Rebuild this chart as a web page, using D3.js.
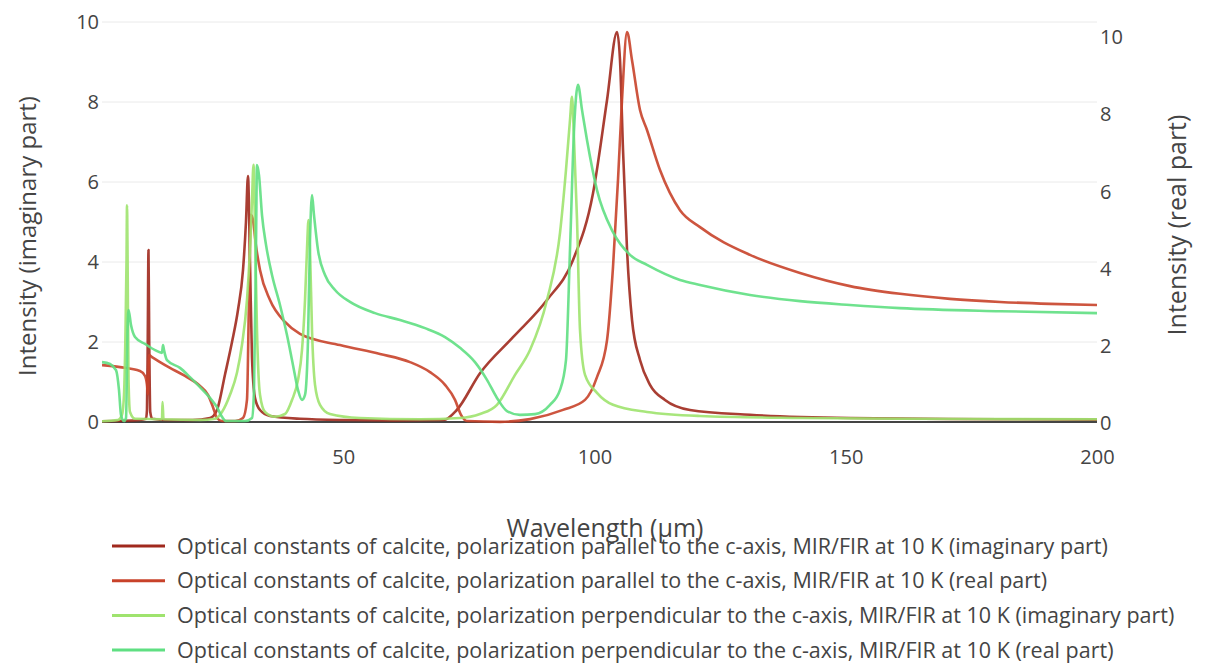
<!DOCTYPE html>
<html>
<head>
<meta charset="utf-8">
<script src="https://cdn.jsdelivr.net/npm/d3@7/dist/d3.min.js"></script>
<style>
  body { margin: 0; background: #fff; }
  svg text { font-family: "Open Sans", "Noto Sans", sans-serif; fill: #444; }
</style>
</head>
<body>
<script>
// Series: [wavelength (um), intensity]
const parImag = [[2.0,0.02],[9.56,0.05],[10.76,0.08],[10.95,0.3],[11.1,2.0],[11.25,4.3],[11.4,2.0],[11.6,0.25],[12.0,0.08],[15.0,0.05],
  [20.0,0.05],[23.5,0.1],[24.88,0.3],[26.5,1.2],[27.87,2.0],[29.06,2.8],[30.06,3.8],[30.65,5.0],[31.05,6.15],[31.45,4.0],
  [31.85,1.6],[32.45,0.6],[33.44,0.3],[35.43,0.15],[41.4,0.08],[50,0.05],[60,0.04],[70,0.05],[72.6,0.3],[77.22,1.22],
  [83.79,2.12],[90.55,3.05],[95.73,4.05],[99.71,5.72],[102.5,8.05],[104.49,9.75],[105.08,9.05],[105.68,6.8],[106.48,4.3],[107.47,2.55],
  [109.06,1.55],[111.05,0.93],[114.03,0.55],[119.01,0.3],[130.95,0.18],[150.85,0.1],[180.7,0.07],[200,0.06]];

const parReal = [[2.0,1.5],[5.58,1.45],[9.56,1.35],[10.56,1.22],[10.95,0.99],[11.15,0.75],[11.35,1.76],[11.95,1.71],[13.54,1.58],[15.53,1.43],
  [18.52,1.22],[21.5,0.96],[23.09,0.73],[24.09,0.41],[24.88,0.13],[25.88,0.05],[28.47,0.05],[30.06,0.13],[30.85,0.6],[31.25,3.2],
  [31.65,5.4],[32.05,5.26],[32.64,4.6],[33.44,3.97],[35.43,3.19],[38.42,2.62],[41.4,2.31],[49.36,2.02],[57.32,1.79],[63.29,1.58],
  [67.27,1.32],[70.26,0.99],[72.25,0.6],[73.44,0.21],[74.63,0.05],[81.2,0.03],[87.17,0.1],[93.74,0.34],[98.12,0.6],[100.5,1.19],
  [102.5,2.15],[103.69,4.05],[104.68,6.3],[105.48,8.38],[106.48,10.14],[107.47,9.41],[109.06,8.12],[110.45,7.6],[113.04,6.56],[117.02,5.52],
  [121.0,5.08],[130.95,4.36],[140.9,3.89],[150.85,3.55],[160.8,3.35],[170.75,3.22],[180.7,3.14],[190.65,3.09],[200,3.06]];

const perpImag = [[2.0,0.02],[5.18,0.05],[5.98,0.18],[6.38,0.68],[6.68,2.3],[6.88,4.05],[6.98,5.42],[7.08,4.3],[7.28,1.05],[7.57,0.25],
  [8.57,0.08],[13.94,0.07],[14.04,0.5],[14.24,0.07],[21.5,0.05],[24.49,0.08],[25.88,0.25],[27.47,0.68],[28.86,1.23],[29.86,1.93],
  [30.85,3.05],[31.45,4.3],[31.85,5.55],[32.15,6.43],[32.45,4.8],[32.84,2.3],[33.44,0.68],[34.44,0.25],[36.43,0.13],[38.42,0.2],
  [39.81,0.55],[41.0,1.05],[41.8,1.8],[42.4,3.05],[42.79,4.3],[43.09,5.05],[43.39,4.3],[43.79,2.3],[44.39,0.93],[45.38,0.43],
  [47.37,0.2],[53.34,0.1],[65.28,0.07],[73.24,0.1],[77.22,0.2],[80.6,0.43],[84.19,1.18],[87.17,1.8],[90.55,3.05],[93.14,4.73],
  [94.33,6.3],[95.13,7.55],[95.53,8.13],[95.93,7.05],[96.53,5.05],[97.12,2.3],[98.12,1.18],[100.5,0.73],[103.69,0.43],[110.45,0.25],
  [121.0,0.15],[140.9,0.1],[160.8,0.08],[200,0.07]];

const perpReal = [[2.0,1.58],[3.59,1.53],[4.79,1.37],[5.38,0.86],[5.78,0.21],[6.38,0.05],[6.78,0.13],[7.08,2.41],[7.28,2.93],[7.77,2.54],
  [8.57,2.23],[10.56,2.05],[12.55,1.89],[13.94,1.82],[14.14,2.02],[14.34,1.89],[14.93,1.63],[17.52,1.43],[19.51,1.19],[21.5,0.93],
  [23.49,0.65],[24.88,0.41],[25.88,0.16],[26.68,0.05],[30.46,0.05],[31.85,0.13],[32.25,0.86],[32.64,4.49],[32.84,6.69],[33.24,6.43],
  [33.84,5.39],[34.64,4.62],[35.83,3.84],[37.42,3.06],[38.81,2.28],[40.01,1.5],[41.0,0.86],[41.8,0.6],[42.4,0.73],[42.99,2.15],
  [43.39,4.75],[43.79,5.91],[44.19,5.39],[44.98,4.49],[46.38,3.84],[48.37,3.45],[51.35,3.14],[56.33,2.85],[61.3,2.67],[66.28,2.46],
  [70.26,2.23],[73.24,1.95],[76.22,1.58],[78.61,1.12],[80.6,0.65],[82.59,0.31],[85.18,0.21],[88.17,0.23],[91.15,0.47],[93.14,0.86],
  [94.33,1.63],[95.13,4.49],[95.93,7.6],[96.72,8.77],[97.52,8.12],[98.51,7.34],[100.5,6.04],[103.69,4.95],[107.07,4.36],[110.45,4.1],
  [117.02,3.71],[121.0,3.58],[130.95,3.32],[140.9,3.16],[150.85,3.06],[160.8,2.98],[180.7,2.9],[200,2.85]];

const seriesNames = [
  'Optical constants of calcite, polarization parallel to the c-axis, MIR/FIR at 10 K (imaginary part)',
  'Optical constants of calcite, polarization parallel to the c-axis, MIR/FIR at 10 K (real part)',
  'Optical constants of calcite, polarization perpendicular to the c-axis, MIR/FIR at 10 K (imaginary part)',
  'Optical constants of calcite, polarization perpendicular to the c-axis, MIR/FIR at 10 K (real part)'
];
const xTicks = [50, 100, 150, 200];
const yTicks = [0, 2, 4, 6, 8, 10];

const width = 1205;
const height = 666;
const plot = { left: 102, right: 1097, top: 22, bottom: 422 };

const colors = ['#a0291d', '#c8422a', '#9fe36e', '#5fdf82'];

const x = d3.scaleLinear().domain([2, 200]).range([plot.left, plot.right]);
const yL = d3.scaleLinear().domain([0, 10]).range([plot.bottom, plot.top]);
const yR = d3.scaleLinear().domain([0, 10.4]).range([plot.bottom + 1, plot.top]);

const svg = d3.select('body').append('svg')
  .attr('width', width)
  .attr('height', height);

// Grid lines (left axis)
svg.append('g')
  .selectAll('line')
  .data(yTicks.filter(d => d > 0))
  .enter()
  .append('line')
  .attr('x1', plot.left)
  .attr('x2', plot.right)
  .attr('y1', d => yL(d))
  .attr('y2', d => yL(d))
  .attr('stroke', '#eaeaea')
  .attr('stroke-width', 1);

// Zero line
svg.append('line')
  .attr('x1', plot.left)
  .attr('x2', plot.right)
  .attr('y1', yL(0))
  .attr('y2', yL(0))
  .attr('stroke', '#444')
  .attr('stroke-width', 2);

// Axes
const axL = svg.append('g')
  .attr('transform', `translate(${plot.left - 3},0)`)
  .call(d3.axisLeft(yL).tickValues(yTicks).tickSize(0).tickPadding(0));
const axR = svg.append('g')
  .attr('transform', `translate(${plot.right + 3},0)`)
  .call(d3.axisRight(yR).tickValues(yTicks).tickSize(0).tickPadding(0));
const axB = svg.append('g')
  .attr('transform', `translate(0,${plot.bottom + 10})`)
  .call(d3.axisBottom(x).tickValues(xTicks).tickSize(0).tickPadding(18));
[axL, axR, axB].forEach(a => {
  a.select('.domain').remove();
  a.selectAll('text').style('font-size', '20px').style('fill', '#444');
});

// Curves
svg.append('clipPath').attr('id', 'clip')
  .append('rect')
  .attr('x', plot.left)
  .attr('y', plot.top - 2)
  .attr('width', plot.right - plot.left)
  .attr('height', plot.bottom - plot.top + 4);

const lineL = d3.line().x(d => x(d[0])).y(d => yL(d[1])).curve(d3.curveMonotoneX);
const lineR = d3.line().x(d => x(d[0])).y(d => yR(d[1])).curve(d3.curveMonotoneX);

const curves = svg.append('g').attr('clip-path', 'url(#clip)');
[[parImag, lineL], [parReal, lineR], [perpImag, lineL], [perpReal, lineR]].forEach(([data, gen], i) => {
  curves.append('path')
    .datum(data)
    .attr('d', gen)
    .attr('fill', 'none')
    .attr('stroke', colors[i])
    .attr('stroke-width', 2.6)
    .attr('stroke-linejoin', 'round')
    .attr('opacity', 0.9);
});

// Axis titles
svg.append('text')
  .attr('x', 605)
  .attr('y', 537)
  .attr('text-anchor', 'middle')
  .style('font-size', '25px')
  .text('Wavelength (\u03bcm)');

svg.append('text')
  .attr('transform', 'translate(36,236) rotate(-90)')
  .attr('text-anchor', 'middle')
  .style('font-size', '24px')
  .text('Intensity (imaginary part)');

svg.append('text')
  .attr('transform', 'translate(1186,225) rotate(-90)')
  .attr('text-anchor', 'middle')
  .style('font-size', '25px')
  .text('Intensity (real part)');

// Legend
const leg = svg.append('g').attr('transform', 'translate(112,546)');
const rows = leg.selectAll('g')
  .data(seriesNames)
  .enter()
  .append('g')
  .attr('transform', (d, i) => `translate(0,${i * 34.7})`);
rows.append('line')
  .attr('x1', 0)
  .attr('x2', 53)
  .attr('stroke', (d, i) => colors[i])
  .attr('stroke-width', 3);
rows.append('text')
  .attr('x', 65)
  .attr('dy', '0.35em')
  .style('font-size', '21.5px')
  .text(d => d);
</script>
</body>
</html>
